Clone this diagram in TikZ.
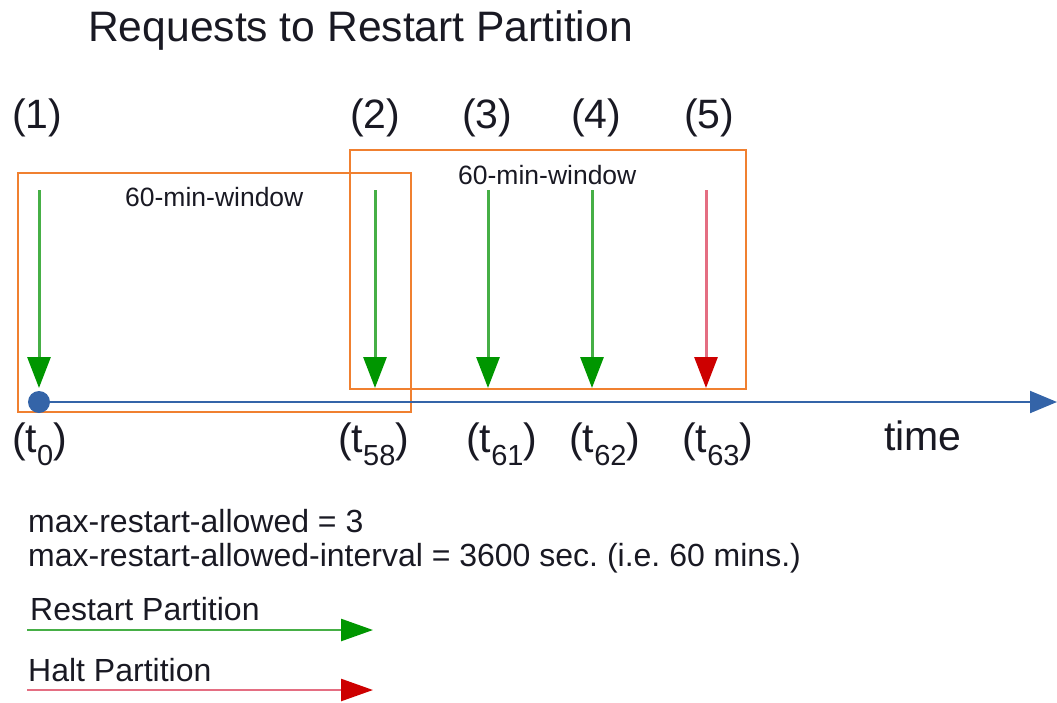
\documentclass[tikz,border=0pt]{standalone}
\usepackage{fontspec}
\setmainfont{Liberation Sans}
\usetikzlibrary{arrows.meta}
\definecolor{boxorange}{RGB}{240,128,48}
\definecolor{linegreen}{RGB}{70,175,70}
\definecolor{headgreen}{RGB}{0,150,0}
\definecolor{linered}{RGB}{228,110,130}
\definecolor{headred}{RGB}{205,0,0}
\definecolor{axisblue}{RGB}{52,100,168}
\definecolor{txt}{RGB}{25,25,35}
\newcommand{\tsub}[1]{(t\raisebox{-0.33em}{\fontsize{29}{29}\selectfont #1})}
\frenchspacing
\begin{document}
\begin{tikzpicture}[x=1pt,y=-1pt,
  lbl/.style={anchor=base west,inner sep=0pt,text=txt,font=\fontsize{41}{48}\selectfont},
  ttl/.style={anchor=base west,inner sep=0pt,text=txt,font=\fontsize{42.6}{50}\selectfont},
  win/.style={anchor=base west,inner sep=0pt,text=txt,font=\fontsize{26.5}{32}\selectfont},
  body/.style={anchor=base west,inner sep=0pt,text=txt,font=\fontsize{32}{38}\selectfont},
  winbox/.style={draw=boxorange,line width=2pt},
  greenarr/.style={draw=linegreen,line width=3pt,-{Triangle[length=31pt,width=23pt,color=headgreen]}},
  redarr/.style={draw=linered,line width=3pt,-{Triangle[length=31pt,width=23pt,color=headred]}},
]
\useasboundingbox (0,0) rectangle (1057,702);

% title
\node[ttl] (title) at (88,41) {Requests to Restart Partition};

% numbers
\node[lbl] (n1) at (12,128) {(1)};
\node[lbl] (n2) at (350,128) {(2)};
\node[lbl] (n3) at (462,128) {(3)};
\node[lbl] (n4) at (571,128) {(4)};
\node[lbl] (n5) at (684,128) {(5)};

% windows
\draw[winbox] (350,150) rectangle (746,389);
\draw[winbox] (18,173) rectangle (411,412);
\node[win] (w1) at (125,206) {60-min-window};
\node[win] (w2) at (458,184) {60-min-window};

% axis
\node[circle,fill=axisblue,inner sep=0pt,minimum size=22pt] (dot) at (39,402) {};
\coordinate (axend) at (1057,402);
\draw[draw=axisblue,line width=2pt,-{Triangle[length=27pt,width=22pt]}] (dot.center) -- (axend);

% request arrows
\coordinate (s1) at (39,190);  \coordinate (e1) at (39,388);
\coordinate (s2) at (375,190); \coordinate (e2) at (375,388);
\coordinate (s3) at (488,190); \coordinate (e3) at (488,388);
\coordinate (s4) at (592,190); \coordinate (e4) at (592,388);
\coordinate (s5) at (706,190); \coordinate (e5) at (706,388);
\draw[greenarr] (s1) -- (e1);
\draw[greenarr] (s2) -- (e2);
\draw[greenarr] (s3) -- (e3);
\draw[greenarr] (s4) -- (e4);
\draw[redarr] (s5) -- (e5);

% time labels
\node[lbl] (t0) at (12,452) {\tsub{0}};
\node[lbl] (t58) at (338,452) {\tsub{58}};
\node[lbl] (t61) at (466,452) {\tsub{61}};
\node[lbl] (t62) at (569,452) {\tsub{62}};
\node[lbl] (t63) at (682,452) {\tsub{63}};
\node[lbl] (time) at (884,450) {time};

% description
\node[body] (d1) at (28,532) {max-restart-allowed = 3};
\node[body] (d2) at (28,566) {max-restart-allowed-interval = 3600 sec. (i.e. 60 mins.)};

% legend
\node[body] (lg1) at (30,620) {Restart Partition};
\coordinate (ga) at (27,630); \coordinate (gb) at (373,630);
\draw[draw=linegreen,line width=2.5pt,-{Triangle[length=32pt,width=22pt,color=headgreen]}] (ga) -- (gb);
\node[body] (lg2) at (28,681) {Halt Partition};
\coordinate (ra) at (27,690); \coordinate (rb) at (373,690);
\draw[draw=linered,line width=2.5pt,-{Triangle[length=32pt,width=22pt,color=headred]}] (ra) -- (rb);
\end{tikzpicture}
\end{document}
